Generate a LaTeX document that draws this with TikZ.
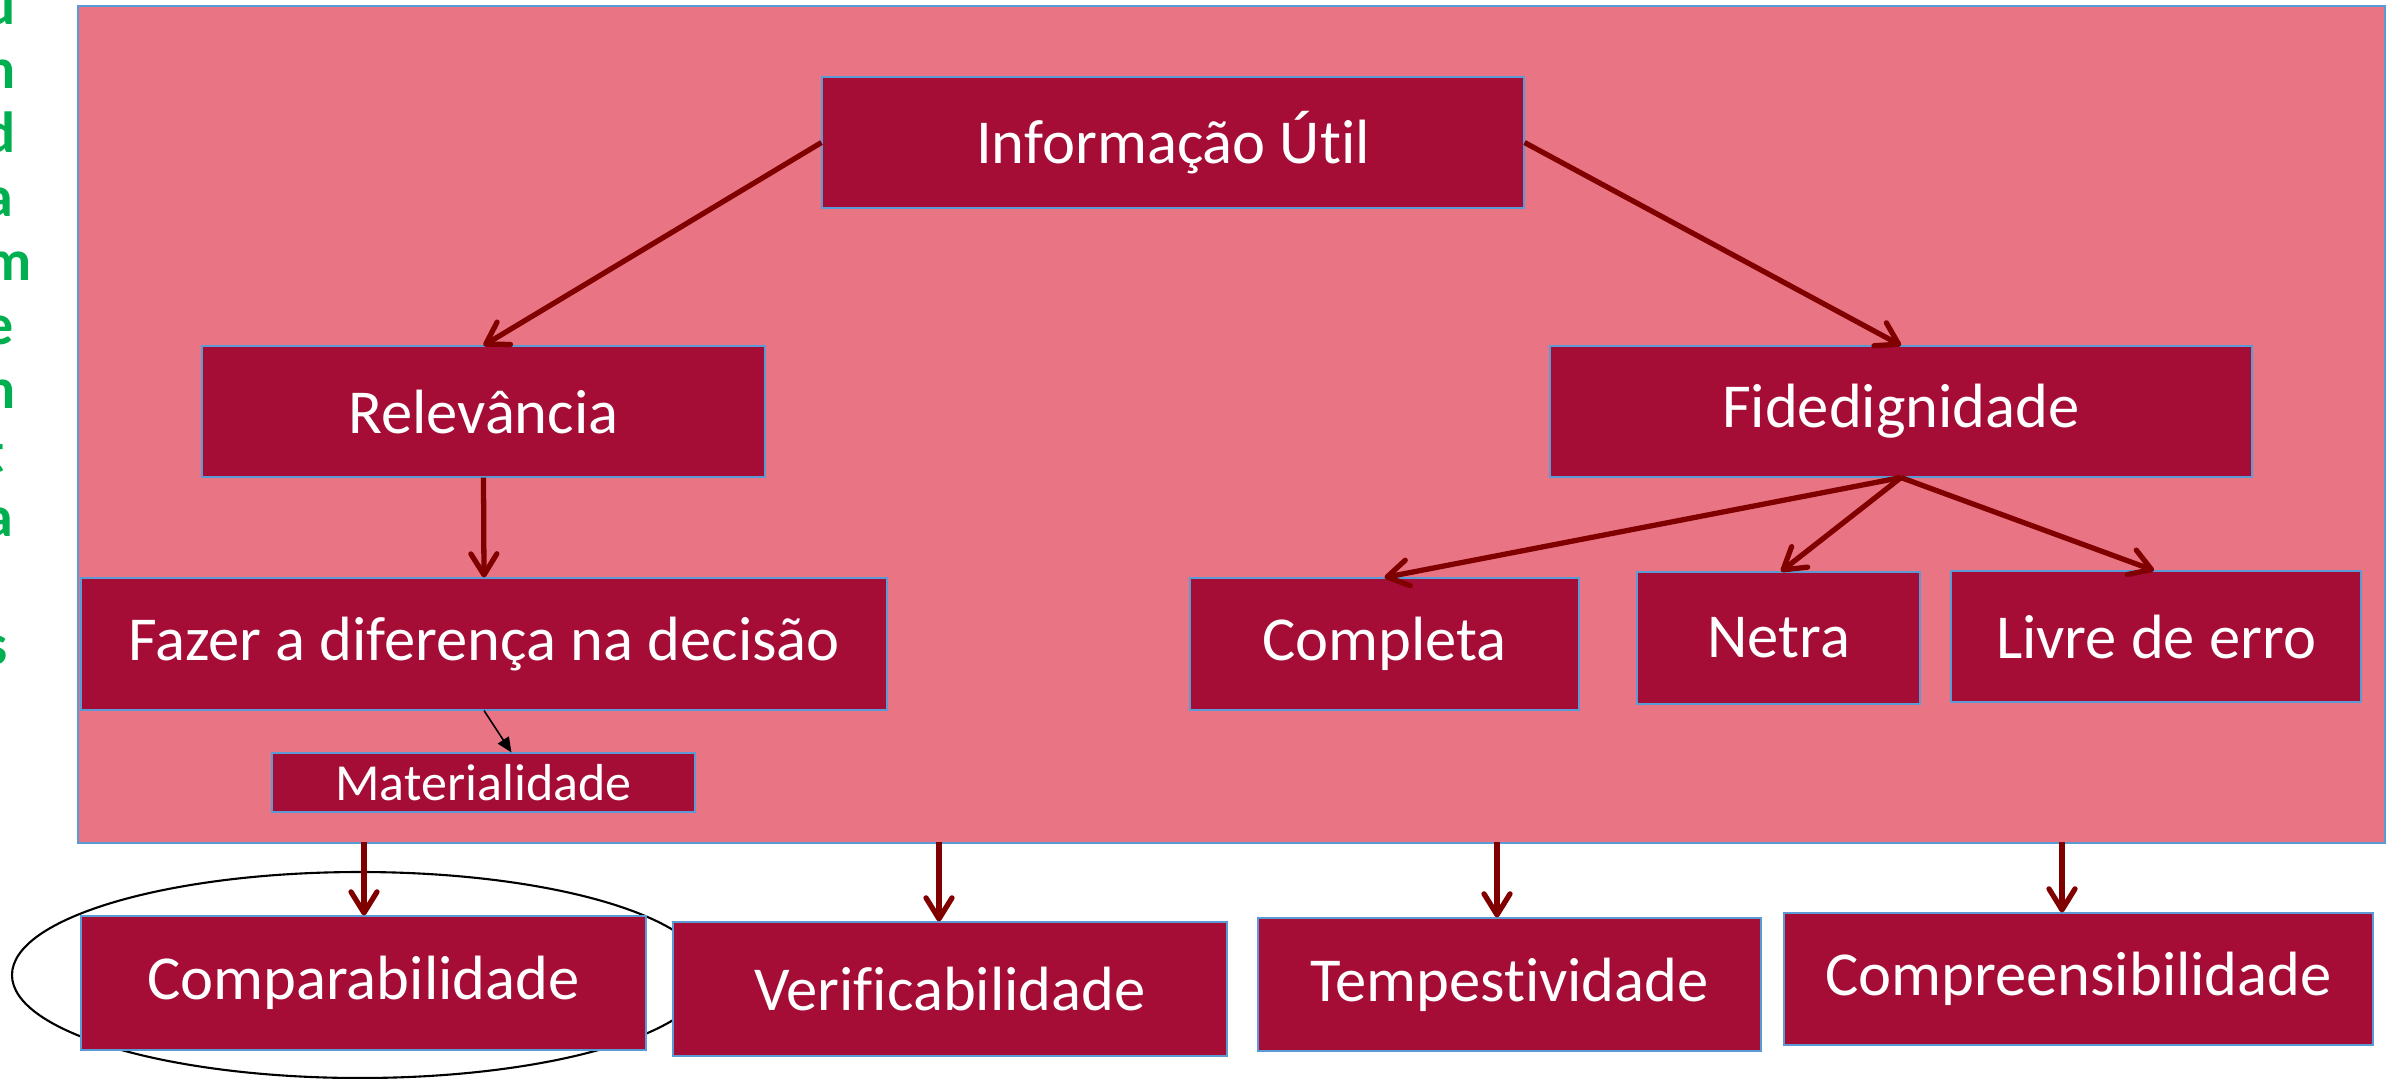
\documentclass[tikz,border=0pt]{standalone}
\usepackage{fontspec}
\setmainfont{Carlito}[Ligatures={NoCommon,NoRare,NoContextual}]
\usetikzlibrary{arrows.meta}
\definecolor{boxred}{RGB}{165,13,55}
\definecolor{bgpink}{RGB}{233,116,132}
\definecolor{edgeblue}{RGB}{91,155,213}
\definecolor{arrred}{RGB}{128,0,0}
\definecolor{lettergreen}{RGB}{0,176,80}
\newcommand{\nolig}{\kern0pt }
\begin{document}
\begin{tikzpicture}[x=0.1mm,y=-0.1mm,
  box/.style={draw=edgeblue, line width=0.3pt, fill=boxred, text=white, inner sep=0pt,
    font=\fontsize{17.8}{21}\selectfont},
  smallbox/.style={box, font=\fontsize{14.8}{18}\selectfont},
  arr/.style={draw=arrred, line width=1.5pt, -{Straight Barb[length=2.1mm,width=2.6mm,round]}},
  thinarr/.style={draw=black, line width=0.45pt, -{Triangle[length=1.5mm,width=1.3mm]}},
  letter/.style={text=lettergreen, font=\fontsize{16.5}{19}\selectfont\bfseries, inner sep=0pt, anchor=base west},
]
\useasboundingbox (0,0) rectangle (2399,1078);
\fill[white] (0,0) rectangle (2399,1078);

% vertical green word (cut at the left edge, as in the reference)
\node[letter] (l1) at (-16,24) {u};
\node[letter] (l2) at (-16,88) {n};
\node[letter] (l3) at (-16,152) {d};
\node[letter] (l4) at (-16,216) {a};
\node[letter] (l5) at (-16,280) {m};
\node[letter] (l6) at (-16,344) {e};
\node[letter] (l7) at (-16,408) {n};
\node[letter] (l8) at (-16,472) {t};
\node[letter] (l9) at (-16,536) {a};
\node[letter] (l10) at (-16,664) {s};

% pink background panel
\node[draw=edgeblue, line width=0.5pt, fill=bgpink, minimum width=230.7mm, minimum height=83.7mm,
  inner sep=0pt, anchor=north west] (bg) at (77,5) {};

% ellipse around Comparabilidade (behind the boxes)
\draw[black, line width=0.6pt] (360,975) ellipse [x radius=348, y radius=103];

% boxes
\node[box, minimum width=70.2mm, minimum height=13.1mm] (info) at (1173,142.5) {Informação Út\nolig il};
\node[box, minimum width=56.3mm, minimum height=13.1mm] (rel) at (483.5,411.5) {Relevância};
\node[box, minimum width=70.2mm, minimum height=13.1mm] (fid) at (1901,411.5) {Fidedignidade};
\node[box, minimum width=80.6mm, minimum height=13.2mm] (faz) at (484,644) {Fazer a diferença na decisão};
\node[smallbox, minimum width=42.3mm, minimum height=5.9mm] (mat) at (483.5,782.5) {Materialidade};
\node[box, minimum width=38.9mm, minimum height=13.2mm] (comp) at (1384.5,644) {Completa};
\node[box, minimum width=28.3mm, minimum height=13.2mm] (netra) at (1778.5,638) {Netra};
\node[box, minimum width=41.0mm, minimum height=13.1mm] (livre) at (2156,636.5) {Livre de erro};
\node[box, minimum width=56.5mm, minimum height=13.4mm] (compar) at (363.5,983) {Comparabilidade};
\node[box, minimum width=55.4mm, minimum height=13.4mm] (verif) at (950,989) {Verif\nolig icabilidade};
\node[box, minimum width=50.3mm, minimum height=13.3mm] (temp) at (1509.5,984.5) {Tempest\nolig ividade};
\node[box, minimum width=58.9mm, minimum height=13.2mm] (compr) at (2078.5,979) {Compreensibilidade};

% connectors
\draw[arr] (info.west) -- (rel.north);
\draw[arr] (info.east) -- (fid.north);
\draw[arr] (rel.south) -- (faz.north);
\draw[thinarr] (faz.south) -- ([xshift=2.8mm]mat.north);
\draw[arr] (fid.south) -- (comp.north);
\draw[arr] (fid.south) -- ([xshift=0.25mm]netra.north);
\draw[arr] (fid.south) -- ([xshift=-0.2mm]livre.north);

\coordinate (s1) at (364,842);
\coordinate (s2) at (939,842);
\coordinate (s3) at (1497,842);
\coordinate (s4) at (2062,842);
\draw[arr] (s1) -- (s1 |- compar.north);
\draw[arr] (s2) -- (s2 |- verif.north);
\draw[arr] (s3) -- (s3 |- temp.north);
\draw[arr] (s4) -- (s4 |- compr.north);
\end{tikzpicture}
\end{document}
